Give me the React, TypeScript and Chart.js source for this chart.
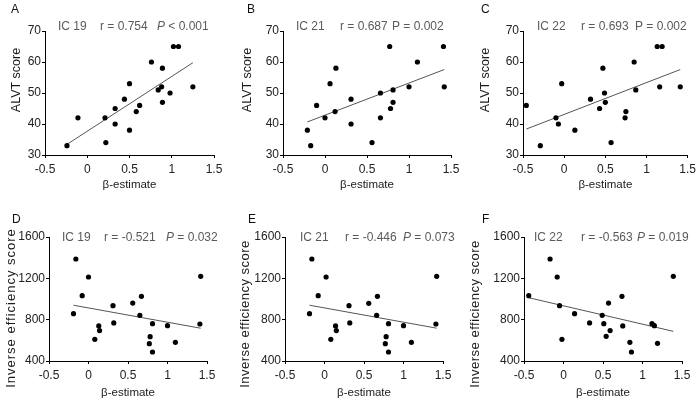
import React, { useEffect, useRef } from 'react';
import { Chart, registerables } from 'chart.js';

Chart.register(...registerables);

const FONT = '"Liberation Sans", Arial, Helvetica, sans-serif';

// shared tick values
const xTicks = [-0.5, 0, 0.5, 1, 1.5];
const alvtTicks = [30, 40, 50, 60, 70];
const iesTicks = [400, 800, 1200, 1600];

// Panel A: IC 19 vs ALVT score
const aX = [-0.24, -0.11, 0.21, 0.22, 0.33, 0.33, 0.44, 0.5, 0.5, 0.58, 0.62, 0.76, 0.84, 0.89, 0.88, 0.89, 0.98, 1.02, 1.08, 1.25];
const aY = [33, 42, 42, 34, 45, 40, 48, 53, 38, 44, 46, 60, 51, 58, 52, 47, 50, 65, 65, 52];

// Panel B: IC 21 vs ALVT score
const bX = [-0.21, -0.17, -0.1, 0.0, 0.06, 0.12, 0.13, 0.31, 0.31, 0.56, 0.66, 0.66, 0.77, 0.78, 0.81, 0.81, 1.0, 1.1, 1.41, 1.42];
const bY = [38, 33, 46, 42, 53, 44, 58, 40, 48, 34, 50, 42, 65, 45, 51, 47, 52, 60, 65, 52];

// Panel C: IC 22 vs ALVT score
const cX = [-0.46, -0.29, -0.1, -0.07, -0.03, 0.13, 0.32, 0.43, 0.47, 0.49, 0.5, 0.57, 0.74, 0.75, 0.85, 0.87, 1.13, 1.16, 1.19, 1.41];
const cY = [46, 33, 42, 40, 53, 38, 48, 45, 58, 50, 47, 34, 42, 44, 60, 51, 65, 52, 65, 52];

// Panel D: IC 19 vs inverse efficiency score
const dX = [-0.19, -0.16, -0.08, 0.0, 0.08, 0.13, 0.14, 0.31, 0.32, 0.56, 0.65, 0.67, 0.77, 0.78, 0.81, 0.81, 1.0, 1.1, 1.41, 1.42];
const dY = [858, 1387, 1032, 1213, 610, 739, 694, 935, 768, 961, 842, 1026, 568, 635, 761, 487, 742, 581, 758, 1219];

// Panel E: IC 21 vs inverse efficiency score
const eX = [-0.19, -0.16, -0.08, 0.02, 0.08, 0.14, 0.15, 0.31, 0.32, 0.56, 0.66, 0.67, 0.77, 0.78, 0.81, 0.81, 1.0, 1.1, 1.41, 1.42];
const eY = [858, 1387, 1032, 1213, 610, 739, 694, 935, 768, 958, 842, 1026, 568, 635, 761, 487, 742, 581, 758, 1219];

// Panel F: IC 22 vs inverse efficiency score
const fX = [-0.44, -0.17, -0.08, -0.05, -0.02, 0.14, 0.33, 0.49, 0.51, 0.54, 0.59, 0.57, 0.74, 0.75, 0.84, 0.86, 1.12, 1.15, 1.19, 1.39];
const fY = [1032, 1387, 1213, 935, 610, 858, 768, 842, 761, 639, 694, 961, 1026, 739, 581, 487, 761, 742, 571, 1219];

type Seg = { text: string; x?: number; italic?: boolean };
type Area = { left: number; right: number; top: number; bottom: number };
type PanelCfg = {
  letter: string;
  letterX: number;
  letterY: number;
  xs: number[];
  ys: number[];
  yTicks: number[];
  yTitle: string;
  yTitleX: number;
  yTitleY: number;
  yTitleSize: number;
  yTitleSpacing: number;
  segs: Seg[];
  segY: number;
  area: Area;
  xTitlePad: number;
};

const TOP_A: Area = { left: 45, right: 214, top: 31, bottom: 155 };
const TOP_B: Area = { left: 283, right: 451, top: 31, bottom: 155 };
const TOP_C: Area = { left: 523, right: 691, top: 31, bottom: 155 };
const BOT_D: Area = { left: 49, right: 207, top: 237, bottom: 361 };
const BOT_E: Area = { left: 285, right: 443, top: 237, bottom: 361 };
const BOT_F: Area = { left: 524, right: 682, top: 237, bottom: 361 };

const panels: PanelCfg[] = [
  {
    letter: 'A', letterX: 11, letterY: 13, xs: aX, ys: aY, yTicks: alvtTicks,
    yTitle: 'ALVT score', yTitleX: 19.5, yTitleY: 80, yTitleSize: 12.5, yTitleSpacing: 0,
    segs: [{ text: 'IC 19', x: 58 }, { text: 'r = 0.754', x: 100 }, { text: 'P', x: 157, italic: true }, { text: ' < 0.001' }],
    segY: 30, area: TOP_A, xTitlePad: 3,
  },
  {
    letter: 'B', letterX: 247, letterY: 13, xs: bX, ys: bY, yTicks: alvtTicks,
    yTitle: 'ALVT score', yTitleX: 250.7, yTitleY: 80, yTitleSize: 12.5, yTitleSpacing: 0,
    segs: [{ text: 'IC 21', x: 296 }, { text: 'r = 0.687', x: 340 }, { text: 'P = 0.002', x: 392 }],
    segY: 30, area: TOP_B, xTitlePad: 3,
  },
  {
    letter: 'C', letterX: 481, letterY: 13, xs: cX, ys: cY, yTicks: alvtTicks,
    yTitle: 'ALVT score', yTitleX: 488.5, yTitleY: 80, yTitleSize: 12.5, yTitleSpacing: 0,
    segs: [{ text: 'IC 22', x: 537 }, { text: 'r = 0.693', x: 581 }, { text: 'P = 0.002', x: 635 }],
    segY: 30, area: TOP_C, xTitlePad: 3,
  },
  {
    letter: 'D', letterX: 12, letterY: 223, xs: dX, ys: dY, yTicks: iesTicks,
    yTitle: 'Inverse efficiency score', yTitleX: 15.3, yTitleY: 308, yTitleSize: 13, yTitleSpacing: 1,
    segs: [{ text: 'IC 19', x: 62 }, { text: 'r = -0.521', x: 104 }, { text: 'P', x: 166, italic: true }, { text: ' = 0.032' }],
    segY: 240.5, area: BOT_D, xTitlePad: 1,
  },
  {
    letter: 'E', letterX: 248, letterY: 223, xs: eX, ys: eY, yTicks: iesTicks,
    yTitle: 'Inverse efficiency score', yTitleX: 249.3, yTitleY: 314, yTitleSize: 13, yTitleSpacing: 0.5,
    segs: [{ text: 'IC 21', x: 300 }, { text: 'r = -0.446', x: 345 }, { text: 'P', x: 403, italic: true }, { text: ' = 0.073' }],
    segY: 240.5, area: BOT_E, xTitlePad: 1,
  },
  {
    letter: 'F', letterX: 482, letterY: 223, xs: fX, ys: fY, yTicks: iesTicks,
    yTitle: 'Inverse efficiency score', yTitleX: 479.3, yTitleY: 314, yTitleSize: 13, yTitleSpacing: 0.5,
    segs: [{ text: 'IC 22', x: 534 }, { text: 'r = -0.563', x: 581 }, { text: 'P', x: 637, italic: true }, { text: ' = 0.019' }],
    segY: 240.5, area: BOT_F, xTitlePad: 1,
  },
];

const W = 700;
const H = 401;
const YW = 40;
const XH = 40;

function fitLine(xs: number[], ys: number[]) {
  const n = xs.length;
  const mx = xs.reduce((s, v) => s + v, 0) / n;
  const my = ys.reduce((s, v) => s + v, 0) / n;
  let sxy = 0;
  let sxx = 0;
  for (let i = 0; i < n; i++) {
    sxy += (xs[i] - mx) * (ys[i] - my);
    sxx += (xs[i] - mx) * (xs[i] - mx);
  }
  const b = sxy / sxx;
  const a = my - b * mx;
  const x0 = Math.min(...xs);
  const x1 = Math.max(...xs);
  return [
    { x: x0, y: a + b * x0 },
    { x: x1, y: a + b * x1 },
  ];
}

function makeTextPlugin(p: PanelCfg) {
  return {
    id: 'panelText' + p.letter,
    afterDraw(chart: any) {
      const ctx: CanvasRenderingContext2D = chart.ctx;
      ctx.save();
      ctx.textBaseline = 'alphabetic';
      ctx.textAlign = 'left';
      // panel letter
      ctx.fillStyle = '#111';
      ctx.font = `12px ${FONT}`;
      ctx.fillText(p.letter, p.letterX, p.letterY);
      // annotation
      ctx.fillStyle = '#5a5a5a';
      let cx = 0;
      for (const s of p.segs) {
        ctx.font = `${s.italic ? 'italic ' : ''}12px ${FONT}`;
        const x = s.x !== undefined ? s.x : cx;
        ctx.fillText(s.text, x, p.segY);
        cx = x + ctx.measureText(s.text).width;
      }
      // y-axis title
      ctx.fillStyle = '#1a1a1a';
      ctx.font = `${p.yTitleSize}px ${FONT}`;
      (ctx as any).letterSpacing = `${p.yTitleSpacing}px`;
      ctx.translate(p.yTitleX, p.yTitleY);
      ctx.rotate(-Math.PI / 2);
      ctx.textAlign = 'center';
      ctx.fillText(p.yTitle, 0, 0);
      (ctx as any).letterSpacing = '0px';
      ctx.restore();
    },
  };
}

function Panel({ cfg }: { cfg: PanelCfg }) {
  const ref = useRef<HTMLCanvasElement | null>(null);
  useEffect(() => {
    if (!ref.current) return;
    const a = cfg.area;
    const yMin = cfg.yTicks[0];
    const yMax = cfg.yTicks[cfg.yTicks.length - 1];
    const chart = new Chart(ref.current, {
      type: 'scatter',
      data: {
        datasets: [
          {
            data: cfg.xs.map((x, i) => ({ x, y: cfg.ys[i] })),
            pointRadius: 2.6,
            pointHoverRadius: 2.6,
            backgroundColor: '#000',
            borderWidth: 0,
            order: 0,
          },
          {
            data: fitLine(cfg.xs, cfg.ys),
            showLine: true,
            borderColor: '#555',
            borderWidth: 1,
            pointRadius: 0,
            order: 1,
          } as any,
        ],
      },
      options: {
        responsive: false,
        animation: false,
        events: [],
        layout: {
          autoPadding: false,
          padding: {
            left: a.left - YW,
            right: W - a.right,
            top: a.top,
            bottom: H - a.bottom - XH,
          },
        },
        plugins: {
          legend: { display: false },
          tooltip: { enabled: false },
        },
        scales: {
          x: {
            type: 'linear',
            min: xTicks[0],
            max: xTicks[xTicks.length - 1],
            afterFit: (s: any) => {
              s.height = XH;
            },
            afterBuildTicks: (s: any) => {
              s.ticks = xTicks.map((v) => ({ value: v }));
            },
            ticks: {
              callback: (v: any) => String(v),
              font: { family: FONT, size: 12 },
              color: '#222',
              padding: 4,
              maxRotation: 0,
              autoSkip: false,
            },
            grid: {
              drawOnChartArea: false,
              drawTicks: true,
              tickLength: 3,
              color: '#000',
              lineWidth: 1,
            },
            border: { display: true, color: '#000', width: 1 },
            title: {
              display: true,
              text: 'β-estimate',
              font: { family: FONT, size: 11.5 },
              color: '#1a1a1a',
              padding: { top: 0, bottom: cfg.xTitlePad },
            },
          },
          y: {
            type: 'linear',
            min: yMin,
            max: yMax,
            afterFit: (s: any) => {
              s.width = YW;
            },
            afterBuildTicks: (s: any) => {
              s.ticks = cfg.yTicks.map((v) => ({ value: v }));
            },
            ticks: {
              callback: (v: any) => String(v),
              font: { family: FONT, size: 12 },
              color: '#222',
              padding: 1,
              autoSkip: false,
            },
            grid: {
              drawOnChartArea: false,
              drawTicks: true,
              tickLength: 3,
              color: '#000',
              lineWidth: 1,
            },
            border: { display: true, color: '#000', width: 1 },
            title: { display: false },
          },
        },
      } as any,
      plugins: [makeTextPlugin(cfg)],
    });
    return () => chart.destroy();
  }, [cfg]);
  return (
    <canvas
      ref={ref}
      width={W}
      height={H}
      style={{ position: 'absolute', left: 0, top: 0, width: W, height: H }}
    />
  );
}

export default function App() {
  return (
    <div
      style={{
        position: 'fixed',
        left: 0,
        top: 0,
        width: W,
        height: H,
        background: '#fff',
        overflow: 'hidden',
      }}
    >
      {panels.map((p) => (
        <Panel key={p.letter} cfg={p} />
      ))}
    </div>
  );
}
